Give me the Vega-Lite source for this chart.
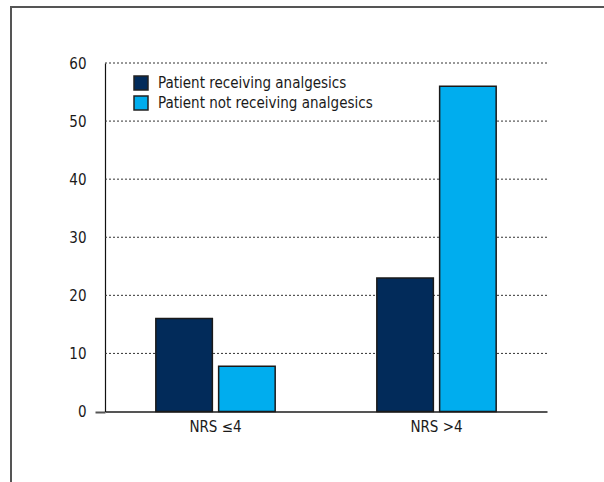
{
  "$schema": "https://vega.github.io/schema/vega-lite/v6.json",
  "width": 604,
  "height": 490,
  "autosize": {"type": "none"},
  "padding": {"left": 11, "top": 7, "right": 0, "bottom": 0},
  "background": "white",
  "config": {
    "view": {"stroke": "#555", "strokeWidth": 2},
    "font": "DejaVu Sans Condensed, sans-serif"
  },
  "layer": [
    {
      "data": {"values": [{"g": 10}, {"g": 20}, {"g": 30}, {"g": 40}, {"g": 50}, {"g": 60}]},
      "mark": {"type": "rule", "strokeDash": [2, 2], "color": "#333", "strokeWidth": 1},
      "encoding": {
        "y": {"field": "g", "type": "quantitative", "scale": {"domain": [0, 60], "range": [404.5, 56], "nice": false}},
        "x": {"datum": 0, "type": "quantitative", "scale": {"domain": [0, 1], "range": [94, 536]}, "axis": null},
        "x2": {"datum": 1}
      }
    },
    {
      "data": {"values": [
        {"group": "NRS ≤4", "series": "Patient receiving analgesics", "value": 16},
        {"group": "NRS ≤4", "series": "Patient not receiving analgesics", "value": 7.8},
        {"group": "NRS >4", "series": "Patient receiving analgesics", "value": 23},
        {"group": "NRS >4", "series": "Patient not receiving analgesics", "value": 56}
      ]},
      "mark": {"type": "bar", "stroke": "#1a1a1a", "strokeWidth": 1.5},
      "encoding": {
        "x": {
          "field": "group", "type": "nominal", "sort": ["NRS ≤4", "NRS >4"],
          "scale": {"range": [94, 536], "paddingInner": 0.46, "paddingOuter": 0.23},
          "axis": {"orient": "bottom", "offset": -85.5, "domainColor": "#555", "domainWidth": 2, "ticks": false, "labelPadding": 8, "labelFontSize": 15, "labelColor": "#1a1a1a", "title": null, "labelAngle": 0}
        },
        "xOffset": {
          "field": "series", "type": "nominal",
          "sort": ["Patient receiving analgesics", "Patient not receiving analgesics"],
          "scale": {"paddingInner": 0.1}
        },
        "y": {
          "field": "value", "type": "quantitative",
          "scale": {"domain": [0, 60], "range": [404.5, 56], "nice": false},
          "axis": {
            "orient": "left", "offset": -94, "values": [0, 10, 20, 30, 40, 50, 60], "grid": false,
            "domainColor": "#111", "domainWidth": 1.2,
            "tickSize": 10, "tickWidth": 2,
            "tickColor": {"condition": {"test": "datum.value === 0", "value": "#555"}, "value": "transparent"},
            "labelPadding": 9, "labelFontSize": 15, "labelColor": "#1a1a1a", "title": null
          }
        },
        "color": {
          "field": "series", "type": "nominal",
          "sort": ["Patient receiving analgesics", "Patient not receiving analgesics"],
          "scale": {"range": ["#022b5a", "#00adee"]},
          "legend": {
            "orient": "none", "legendX": 122, "legendY": 68, "title": null,
            "symbolType": "square", "symbolSize": 196, "symbolStrokeColor": "#222", "symbolStrokeWidth": 1.5,
            "symbolOpacity": 1, "labelFontSize": 15, "labelColor": "#1a1a1a", "labelLimit": 0,
            "rowPadding": 0, "labelOffset": 9, "padding": 0
          }
        }
      }
    }
  ],
  "resolve": {"scale": {"x": "independent"}}
}
